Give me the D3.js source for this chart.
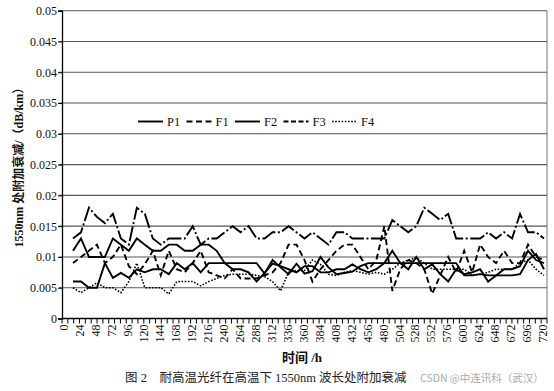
<!DOCTYPE html>
<html><head><meta charset="utf-8">
<script src="https://cdn.jsdelivr.net/npm/d3@7"></script>
<style>
html,body{margin:0;padding:0;background:#fff;}
svg{display:block;}
</style></head>
<body>
<svg id="chart" width="554" height="391"></svg>
<script>
// ---- data (hours every 12 h, values in dB/km) ----
const hours = [12,24,36,48,60,72,84,96,108,120,132,144,156,168,180,192,204,216,228,240,
  252,264,276,288,300,312,324,336,348,360,372,384,396,408,420,432,444,456,468,480,
  492,504,516,528,540,552,564,576,588,600,612,624,636,648,660,672,684,696,708,720];
const P1 = [0.011,0.013,0.010,0.010,0.010,0.013,0.012,0.011,0.013,0.012,
  0.011,0.011,0.012,0.012,0.011,0.011,0.012,0.012,0.011,0.009,
  0.008,0.008,0.0075,0.006,0.0074,0.0089,0.0085,0.008,0.0075,0.0085,
  0.0085,0.0075,0.0075,0.008,0.008,0.0088,0.008,0.0075,0.008,0.009,
  0.011,0.009,0.008,0.010,0.008,0.0088,0.0072,0.006,0.008,0.0072,
  0.0075,0.008,0.006,0.007,0.008,0.008,0.0085,0.011,0.0095,0.009];
const F1 = [0.009,0.010,0.011,0.012,0.009,0.010,0.012,0.0085,0.0072,0.0088,
  0.011,0.007,0.011,0.008,0.0075,0.009,0.011,0.0075,0.007,0.0065,
  0.008,0.0065,0.0065,0.0065,0.007,0.0075,0.009,0.012,0.012,0.0095,
  0.006,0.008,0.0095,0.011,0.012,0.012,0.010,0.008,0.0095,0.015,
  0.0045,0.008,0.0095,0.009,0.008,0.004,0.007,0.010,0.0075,0.011,
  0.0075,0.012,0.010,0.009,0.011,0.009,0.009,0.012,0.010,0.0095];
const F2 = [0.006,0.006,0.005,0.005,0.009,0.0066,0.0074,0.0066,0.008,0.0075,
  0.008,0.008,0.0072,0.009,0.008,0.009,0.0075,0.009,0.009,0.009,
  0.009,0.009,0.009,0.009,0.0073,0.0095,0.0083,0.0072,0.0089,0.0073,
  0.0077,0.010,0.0083,0.0072,0.0074,0.0076,0.0085,0.009,0.009,0.009,
  0.009,0.009,0.009,0.009,0.009,0.009,0.009,0.009,0.009,0.007,
  0.007,0.0072,0.007,0.007,0.007,0.007,0.0072,0.0095,0.0105,0.008];
const F3 = [0.013,0.014,0.018,0.0165,0.0155,0.017,0.013,0.012,0.018,0.017,
  0.013,0.012,0.013,0.013,0.013,0.015,0.012,0.013,0.013,0.014,
  0.015,0.014,0.015,0.013,0.013,0.014,0.014,0.015,0.014,0.013,
  0.014,0.013,0.012,0.014,0.014,0.013,0.013,0.013,0.013,0.013,
  0.016,0.015,0.014,0.015,0.018,0.017,0.016,0.017,0.013,0.013,
  0.013,0.013,0.014,0.013,0.014,0.013,0.017,0.014,0.014,0.013];
const F4 = [0.005,0.0042,0.005,0.0058,0.005,0.005,0.0042,0.006,0.009,0.005,
  0.005,0.005,0.004,0.006,0.006,0.006,0.0053,0.006,0.0065,0.007,
  0.0072,0.0072,0.0072,0.007,0.0068,0.006,0.0045,0.0075,0.0078,0.0078,
  0.0095,0.0088,0.0072,0.007,0.0075,0.0078,0.0075,0.0072,0.0075,0.0072,
  0.008,0.009,0.0095,0.0099,0.009,0.008,0.008,0.008,0.008,0.008,
  0.007,0.0072,0.0075,0.008,0.008,0.008,0.009,0.0095,0.008,0.007];
const seriesNames = ["P1","F1","F2","F3","F4"];
const xTickLabels = [0,24,48,72,96,120,144,168,192,216,240,264,288,312,336,360,384,408,432,456,480,504,528,552,576,600,624,648,672,696,720];
const yTickValues = [0,0.005,0.01,0.015,0.02,0.025,0.03,0.035,0.04,0.045,0.05];
const yTickLabels = ["0","0.005","0.01","0.015","0.02","0.025","0.03","0.035","0.04","0.045","0.05"];

// ---- layout ----
const W = 554, H = 391;
const L = 62, R = 547, T = 10.7, B = 318.5;
const svg = d3.select("#chart");
const serif = "'Liberation Serif','Times New Roman',serif";
const cjk = "'Liberation Serif','Noto Sans CJK SC',serif";

const x = d3.scaleLinear().domain([0,720]).range([L+3, R-3]);
const y = d3.scaleLinear().domain([0,0.05]).range([B, T]);

// gridlines
svg.append("g").selectAll("line").data(yTickValues.slice(1)).join("line")
  .attr("x1", L-3).attr("x2", R).attr("y1", d=>y(d)).attr("y2", d=>y(d))
  .attr("stroke", "#555").attr("stroke-width", 1.1);
// right border
svg.append("line").attr("x1", R).attr("x2", R).attr("y1", T).attr("y2", B)
  .attr("stroke", "#777").attr("stroke-width", 1);

// y axis
const yAxis = svg.append("g").attr("transform", `translate(${L},0)`)
  .call(d3.axisLeft(y).tickValues(yTickValues).tickSize(4)
    .tickFormat((d,i)=>yTickLabels[i]));
yAxis.select(".domain").attr("stroke","#000").attr("stroke-width",1.3);
yAxis.selectAll(".tick line").attr("stroke","#000");
yAxis.selectAll("text").attr("font-family", serif).attr("font-size", 12).attr("fill","#111").attr("x",-5);

// x axis line and minor ticks
svg.append("line").attr("x1", L).attr("x2", R).attr("y1", B).attr("y2", B)
  .attr("stroke","#000").attr("stroke-width",1.3);
const tickPos = d3.scaleLinear().domain([0,83]).range([L, R]);
svg.append("g").selectAll("line").data(d3.range(84)).join("line")
  .attr("x1", d=>tickPos(d)).attr("x2", d=>tickPos(d))
  .attr("y1", B).attr("y2", B+5).attr("stroke","#000").attr("stroke-width",1);
// x tick labels (rotated)
svg.append("g").selectAll("text").data(xTickLabels).join("text")
  .attr("transform", d=>`translate(${x(d)-1},${B+6}) rotate(-90)`)
  .attr("text-anchor","end").attr("dy","0.35em")
  .attr("font-family", serif).attr("font-size", 12).attr("fill","#111")
  .text(d=>d);

// series lines
const styles = {
  P1:{dash:null, w:1.9},
  F1:{dash:"6,3.5", w:1.9},
  F2:{dash:null, w:1.9},
  F3:{dash:"15,2.5,2,2.5", w:1.9},
  F4:{dash:"1.6,1.6", w:1.6}
};
const legendDash = {P1:null, F1:"6,3.5", F2:null, F3:"5,2.5", F4:"1.6,1.6"};
const dataMap = {P1, F1, F2, F3, F4};
const line = d3.line().x(d=>x(d[0])).y(d=>y(d[1]));
seriesNames.forEach(name=>{
  const pts = hours.map((h,i)=>[h, dataMap[name][i]]);
  svg.append("path").datum(pts).attr("d", line)
    .attr("fill","none").attr("stroke","#000")
    .attr("stroke-width", styles[name].w)
    .attr("stroke-linejoin","miter")
    .attr("stroke-dasharray", styles[name].dash);
});

// legend
const lg = d3.scalePoint().domain(seriesNames).range([138, 332]);
const leg = svg.append("g").selectAll("g").data(seriesNames).join("g")
  .attr("transform", d=>`translate(${lg(d)},121.5)`);
leg.append("line").attr("x1",0).attr("x2",25).attr("y1",0).attr("y2",0)
  .attr("stroke","#000").attr("stroke-width", d=>styles[d].w)
  .attr("stroke-dasharray", d=>legendDash[d]);
leg.append("text").attr("x",29).attr("dy","0.35em")
  .attr("font-family", serif).attr("font-size", 12.5).attr("fill","#111")
  .text(d=>d);

// axis titles
svg.append("text")
  .attr("transform", `translate(19,${(T+B)/2}) rotate(-90)`)
  .attr("text-anchor","middle").attr("dy","0.35em")
  .attr("font-family", cjk).attr("font-size", 12).attr("font-weight","bold").attr("fill","#111")
  .text("1550nm 处附加衰减/（dB/km）");
svg.append("text").attr("x", 302).attr("y", 357).attr("text-anchor","middle")
  .attr("dy","0.35em").attr("font-family", cjk).attr("font-size", 13).attr("font-weight","bold").attr("fill","#111")
  .text("时间 /h");

// caption + watermark
svg.append("text").attr("x", 125).attr("y", 378).attr("dy","0.35em")
  .attr("font-family", cjk).attr("font-size", 12.5).attr("fill","#222")
  .text("图 2　耐高温光纤在高温下 1550nm 波长处附加衰减");
svg.append("text").attr("x", 420).attr("y", 378).attr("dy","0.35em")
  .attr("font-family", "'Noto Sans CJK SC','Noto Sans',sans-serif").attr("font-size", 10.5).attr("fill","#aaa")
  .text("CSDN @中连讯科（武汉）");
</script>
</body></html>
